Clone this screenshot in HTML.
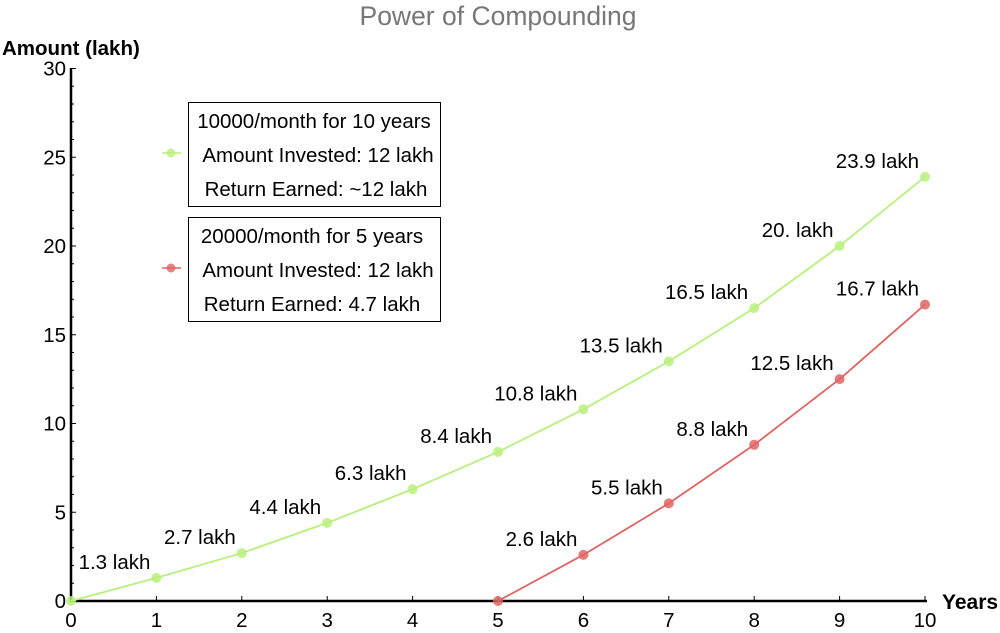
<!DOCTYPE html>
<html><head><meta charset="utf-8"><style>
body{margin:0;background:#fff}
svg{display:block;font-family:"Liberation Sans",sans-serif}
</style></head><body>
<svg id="chart" width="1000" height="633" viewBox="0 0 1000 633">
<text x="498" y="25" text-anchor="middle" font-size="26.5" fill="#777">Power of Compounding</text>
<text x="2" y="55" font-size="20.5" font-weight="bold">Amount (lakh)</text>
<text x="942" y="609" font-size="21" font-weight="bold">Years</text>
<g id="axes"></g>
<g id="series"></g>
<g font-size="20.5">
<rect x="188.5" y="102.5" width="252" height="104" fill="#fff" stroke="#000"/>
<text x="314" y="128" text-anchor="middle">10000/month for 10 years</text>
<text x="318" y="162" text-anchor="middle">Amount Invested: 12 lakh</text>
<text x="316" y="196" text-anchor="middle">Return Earned: ~12 lakh</text>
<line x1="162" y1="153" x2="181" y2="153" stroke="#b8f07c" stroke-width="1.5"/>
<circle cx="171" cy="153" r="4.5" fill="#b8f07c" opacity="0.8"/>
<rect x="188.5" y="217.5" width="252" height="104" fill="#fff" stroke="#000"/>
<text x="312" y="243" text-anchor="middle">20000/month for 5 years</text>
<text x="318" y="277" text-anchor="middle">Amount Invested: 12 lakh</text>
<text x="312" y="311" text-anchor="middle">Return Earned: 4.7 lakh</text>
<line x1="162" y1="268" x2="181" y2="268" stroke="#e06464" stroke-width="1.5"/>
<circle cx="171" cy="268" r="4.5" fill="#e06464" opacity="0.8"/>
</g>
</svg>
<script>
const years10 = [0,1,2,3,4,5,6,7,8,9,10];
const values10 = [0,1.3,2.7,4.4,6.3,8.4,10.8,13.5,16.5,20.0,23.9];
const labels10 = ["","1.3 lakh","2.7 lakh","4.4 lakh","6.3 lakh","8.4 lakh","10.8 lakh","13.5 lakh","16.5 lakh","20. lakh","23.9 lakh"];
const years5 = [5,6,7,8,9,10];
const values5 = [0,2.6,5.5,8.8,12.5,16.7];
const labels5 = ["","2.6 lakh","5.5 lakh","8.8 lakh","12.5 lakh","16.7 lakh"];
const xTicks = [0,1,2,3,4,5,6,7,8,9,10];
const yTicks = [0,5,10,15,20,25,30];

const NS="http://www.w3.org/2000/svg";
const xs=v=>71+v*85.4;
const ys=v=>601-v*17.75;
function mk(tag,attrs,parent){const e=document.createElementNS(NS,tag);for(const k in attrs)e.setAttribute(k,attrs[k]);parent.appendChild(e);return e;}
const axes=document.getElementById('axes');
const xl=mk('line',{x1:70,y1:601,x2:927,y2:601,stroke:'#000','stroke-width':2.5},axes);


const yl=mk('line',{x1:71,y1:602,x2:71,y2:68,stroke:'#000','stroke-width':2.5},axes);


for(let v=0;v<=30;v++){mk('line',{x1:71,x2:v%5?74:76,y1:ys(v),y2:ys(v),stroke:'#000','stroke-width':1},axes);}
xTicks.forEach(t=>{
  mk('line',{x1:xs(t),x2:xs(t),y1:601,y2:596,stroke:'#000','stroke-width':1},axes);
  const tx=mk('text',{x:xs(t),y:627,'text-anchor':'middle','font-size':20.5},axes);tx.textContent=t;
  
  
});
yTicks.forEach(t=>{
  const tx=mk('text',{x:66,y:ys(t)+7,'text-anchor':'end','font-size':20.5},axes);tx.textContent=t;
  
  
});
const ser=document.getElementById('series');
function draw(xsA,vals,labs,color,name){
  const g=mk('g',{},ser);
  
  
  const pl=mk('polyline',{points:xsA.map((x,i)=>xs(x)+','+ys(vals[i])).join(' '),fill:'none',stroke:color,'stroke-width':1.8},g);
  
  
  xsA.forEach((x,i)=>{
    const c=mk('circle',{cx:xs(x),cy:ys(vals[i]),r:5,fill:color,opacity:0.85},g);
    
    
    if(labs[i]){const t=mk('text',{x:xs(x)-6,y:ys(vals[i])-9,'text-anchor':'end','font-size':20.5},g);t.textContent=labs[i];
      
      }
  });
}
draw(years10,values10,labels10,'#b8f07c','series-10-years');
draw(years5,values5,labels5,'#e06464','series-5-years');
</script>
</body></html>
